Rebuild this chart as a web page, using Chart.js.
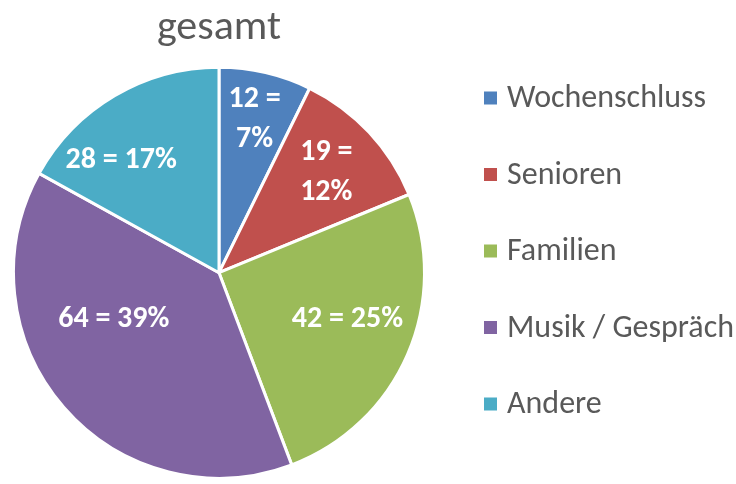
<!DOCTYPE html>
<html>
<head>
<meta charset="utf-8">
<script src="https://cdn.jsdelivr.net/npm/chart.js@4"></script>
<style>
  html, body { margin: 0; padding: 0; background: #fff; }
  #wrap { width: 736px; height: 484px; }
</style>
</head>
<body>
<div id="wrap"><canvas id="myChart"></canvas></div>
<script>
var categories = ["Wochenschluss", "Senioren", "Familien", "Musik / Gespräch", "Andere"];
var values = [12, 19, 42, 64, 28];
var percents = [7, 12, 25, 39, 17];
var sliceColors = ["#4F81BD", "#C0504D", "#9BBB59", "#8064A2", "#4BACC6"];
var fontFamily = "Carlito, Calibri, Lato, 'Open Sans', sans-serif";

// where the label sits inside each slice: fraction of radius, angle shift in degrees
var labelRadius = [0.765, 0.715, 0.665, 0.56, 0.725];
var labelTurn = [0, 0, -3.5, 17, -10.5];

// labels inside the slices, "12 = 7%" style
var sliceLabels = {
  id: "sliceLabels",
  afterDatasetsDraw: function (chart) {
    var ctx = chart.ctx;
    var meta = chart.getDatasetMeta(0);
    var total = values.reduce(function (s, v) { return s + v; }, 0);
    ctx.save();
    ctx.fillStyle = "#fff";
    ctx.font = "bold 30px " + fontFamily;
    ctx.textAlign = "center";
    ctx.textBaseline = "middle";
    meta.data.forEach(function (arc, i) {
      var mid = (arc.startAngle + arc.endAngle) / 2 + labelTurn[i] * Math.PI / 180;
      var r = arc.outerRadius * labelRadius[i];
      var x = arc.x + Math.cos(mid) * r;
      var y = arc.y + Math.sin(mid) * r;
      var a = values[i] + " =";
      var b = percents[i] + "%";
      if (values[i] / total < 0.15) {
        ctx.fillText(a, x, y - 20);
        ctx.fillText(b, x, y + 20);
      } else {
        ctx.fillText(a + " " + b, x, y);
      }
    });
    ctx.restore();
  }
};

// legend on the right, drawn by hand so the spacing matches
var sideLegend = {
  id: "sideLegend",
  afterDraw: function (chart) {
    var ctx = chart.ctx;
    var x0 = chart.chartArea.right + 58;
    ctx.save();
    ctx.font = "32px " + fontFamily;
    ctx.textBaseline = "middle";
    ctx.textAlign = "left";
    chart.data.labels.forEach(function (lab, i) {
      var y = 98 + i * 76.5;
      ctx.fillStyle = chart.data.datasets[0].backgroundColor[i];
      ctx.fillRect(x0, y - 6.5, 13, 13);
      ctx.fillStyle = "#595959";
      ctx.fillText(lab, x0 + 23, y + 1);
    });
    ctx.restore();
  }
};

new Chart("myChart", {
  type: "pie",
  data: {
    labels: categories,
    datasets: [{
      data: values,
      backgroundColor: sliceColors,
      borderColor: "#fff",
      borderWidth: 3
    }]
  },
  options: {
    responsive: true,
    maintainAspectRatio: false,
    animation: false,
    layout: { padding: { bottom: 3, left: 12, right: 310 } },
    plugins: {
      title: {
        display: true,
        text: "gesamt",
        color: "#595959",
        font: { family: fontFamily, size: 42, weight: "normal" },
        padding: { top: 3, bottom: 11 }
      },
      legend: { display: false },
      tooltip: { enabled: false }
    }
  },
  plugins: [sliceLabels, sideLegend]
});
</script>
</body>
</html>
